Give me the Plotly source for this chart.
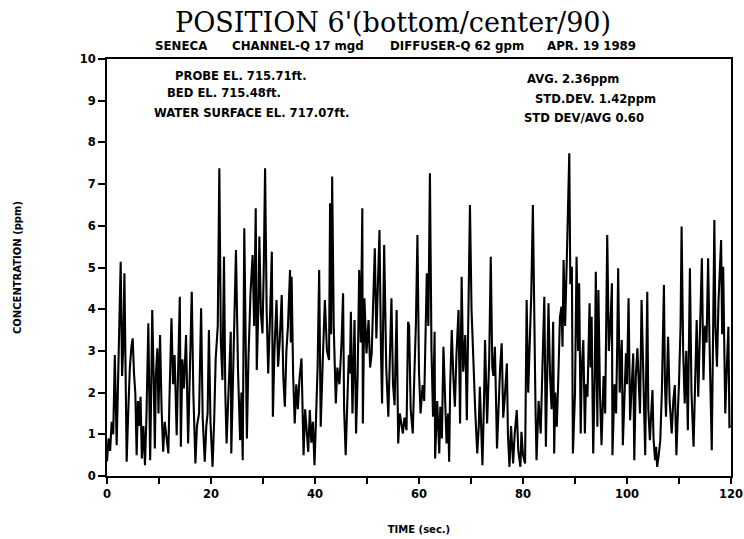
import plotly.graph_objects as go

# time (sec) and concentration (ppm)
time_s = [0.0,0.3,0.6,0.9,1.2,1.5,1.86,2.2,2.63,2.9,3.1,3.35,3.55,3.78,4.1,4.4,4.7,4.94,5.2,5.45,5.7,5.95,6.2,6.45,6.7,7.0,7.3,7.6,7.95,8.3,8.5,8.7,9.0,9.2,9.4,9.68,9.9,10.2,10.5,10.8,11.1,11.4,11.8,12.0,12.2,12.4,12.7,13.0,13.4,13.7,14.0,14.2,14.5,14.8,15.2,15.6,15.9,16.3,16.6,17.0,17.3,17.7,18.1,18.4,18.8,19.1,19.35,19.6,19.9,20.3,20.6,20.9,21.3,21.6,21.9,22.2,22.5,22.75,23.0,23.4,23.8,23.9,24.3,24.8,25.2,25.6,25.85,26.1,26.4,26.7,26.9,27.2,27.6,28.0,28.3,28.6,28.8,
          29.1,29.3,29.6,29.9,30.15,30.4,30.7,31.0,31.35,31.7,31.9,32.2,32.6,32.9,33.2,33.6,33.9,34.2,34.5,34.8,35.2,35.35,35.5,35.8,36.1,36.4,36.7,37.0,37.4,37.8,38.1,38.4,38.7,39.0,39.3,39.6,39.9,40.2,40.5,40.8,41.1,41.5,41.9,42.3,42.7,42.9,43.1,43.3,43.6,44.0,44.3,44.7,45.1,45.4,45.6,45.9,46.2,46.5,46.7,46.9,47.2,47.6,47.9,48.2,48.5,48.8,49.1,49.2,49.5,49.9,50.3,50.6,50.9,51.2,51.5,51.8,52.1,52.4,52.7,52.9,53.3,53.7,54.1,54.4,54.7,55.0,55.3,55.7,56.0,56.3,56.6,56.9,57.2,57.6,57.9,58.1,58.4,58.8,59.1,59.4,59.7,60.0,60.3,60.7,61.0,61.3,61.5,61.8,62.1,62.4,62.7,63.0,63.1,63.5,63.9,64.1,64.4,64.7,65.0,65.3,65.6,65.8,66.0,66.3,66.6,66.9,67.2,67.6,67.9,68.2,68.5,68.9,69.2,69.5,69.8,70.1,70.4,70.8,71.2,71.5,71.7,72.0,72.2,72.5,72.7,73.1,73.5,73.8,74.1,74.3,74.6,75.0,75.3,75.6,75.9,76.2,76.5,76.9,77.1,77.4,77.7,78.1,78.4,78.8,79.1,79.5,79.7,80.0,80.4,80.7,81.0,81.3,81.6,81.9,82.2,82.4,82.6,83.0,83.4,83.8,84.1,84.4,84.7,84.9,85.2,85.5,85.8,86.0,86.2,86.5,86.8,87.1,87.4,87.6,87.8,88.1,88.5,88.9,89.1,89.4,89.6,90.0,90.3,90.6,90.8,91.1,91.3,91.6,91.9,92.1,92.4,92.8,93.0,93.2,93.5,93.8,94.0,94.3,94.5,94.8,95.1,95.5,95.8,96.0,96.2,96.5,96.8,97.1,97.2,97.6,97.9,98.1,98.3,98.6,99.0,99.2,99.5,99.8,100.0,100.3,100.6,100.9,101.2,101.4,101.7,102.0,102.2,102.5,102.8,103.1,103.5,103.7,103.9,104.1,104.4,104.7,104.9,105.1,105.4,105.6,105.8,106.1,106.4,106.7,107.1,107.3,107.5,107.9,108.2,108.6,108.9,109.2,109.5,109.8,110.0,110.3,110.5,110.8,111.1,111.4,111.7,112.1,112.4,112.8,113.1,113.4,113.7,114.1,114.4,114.7,115.0,115.3,115.6,115.9,116.3,116.5,116.8,117.0,117.3,117.6,117.8,118.1,118.3,118.5,118.7,118.9,119.2,119.5,119.7,120.0]
conc_ppm = [0.35,0.9,0.6,1.3,1.0,2.9,0.74,2.7,5.14,2.4,3.0,4.86,2.0,0.34,1.6,2.6,3.1,3.3,2.45,1.98,0.5,1.8,1.2,1.9,0.42,1.2,0.26,1.5,3.66,0.38,2.0,3.98,2.2,0.66,2.4,3.06,1.5,3.38,1.6,0.58,1.3,0.9,0.54,1.8,2.7,3.78,2.2,2.9,0.98,2.5,4.3,0.7,2.8,2.1,3.38,0.78,2.2,4.42,2.0,0.3,1.2,1.5,4.02,1.4,0.34,1.2,1.5,3.5,1.3,0.22,1.3,2.8,3.6,7.38,3.2,2.3,5.26,2.0,0.78,2.2,3.46,0.54,2.6,5.42,2.5,0.86,2.0,0.38,5.94,2.6,0.9,2.8,4.4,5.3,3.6,6.42,2.54,
            4.0,5.74,3.9,3.42,5.0,7.38,4.0,2.46,3.8,5.38,1.42,3.0,4.22,2.62,3.2,4.34,2.4,1.66,3.0,3.6,4.94,3.2,4.78,2.4,1.26,2.2,1.6,2.3,2.82,0.5,1.6,1.1,0.58,1.58,0.8,1.3,0.26,1.4,2.6,4.94,1.18,2.8,4.22,3.0,2.78,6.54,3.4,7.18,3.6,1.74,2.6,2.2,3.2,4.38,1.6,0.5,1.8,2.9,2.46,3.94,1.5,3.74,1.02,2.4,4.94,3.2,6.42,1.26,4.26,2.94,3.74,2.6,2.94,4.3,5.46,3.3,4.6,5.9,2.9,1.74,5.54,2.6,1.42,3.0,4.26,2.2,1.7,3.98,0.78,1.5,1.2,1.02,1.4,1.1,3.7,3.6,1.6,1.02,2.4,3.62,5.78,2.5,1.5,2.18,1.8,3.6,4.86,3.6,7.26,3.0,1.42,3.46,0.42,1.8,0.54,1.66,0.9,3.1,1.6,0.78,1.5,0.34,2.2,3.5,2.4,1.66,2.9,3.98,1.26,4.78,2.5,3.38,1.34,3.6,6.5,4.0,2.8,1.6,0.54,1.2,2.14,1.0,0.26,1.8,3.26,1.26,2.8,5.26,2.6,2.4,3.1,0.66,1.8,2.6,3.18,1.4,1.9,2.7,1.0,0.22,1.2,0.3,1.0,1.58,0.6,0.22,1.06,0.5,0.3,4.22,2.0,3.2,4.4,6.5,2.5,1.66,0.38,1.8,1.02,2.8,4.3,0.7,3.0,4.14,2.4,1.6,3.7,0.54,2.0,1.18,2.4,3.8,4.06,3.1,5.18,3.6,5.58,7.74,4.6,5.02,0.54,1.98,5.26,3.0,4.62,1.02,2.6,3.26,1.02,2.2,1.9,4.14,2.6,3.82,0.54,2.4,4.9,1.18,4.46,2.0,0.74,2.4,1.5,3.4,5.78,3.0,3.6,4.62,0.5,2.2,1.5,3.0,4.98,2.0,3.26,0.74,2.0,2.94,2.2,4.26,1.34,2.2,2.94,0.38,2.4,3.06,2.5,1.5,4.22,2.5,0.5,2.6,4.42,1.6,0.86,1.6,2.06,0.9,0.38,0.7,0.22,0.5,0.86,2.0,4.58,2.2,1.42,3.34,1.8,1.02,1.8,2.18,0.5,1.6,2.22,3.6,5.98,3.0,1.74,3.0,1.1,4.98,2.0,0.7,2.2,3.74,1.9,3.6,5.22,2.3,3.6,3.2,5.22,3.0,0.62,2.8,6.14,3.6,2.62,4.2,5.0,5.66,3.4,5.02,3.2,1.5,2.6,3.58,1.18,1.2]

x_ticks = [0, 10, 20, 30, 40, 50, 60, 70, 80, 90, 100, 110, 120]
x_tick_text = ["0", "", "20", "", "40", "", "60", "", "80", "", "100", "", "120"]
y_ticks = [0, 1, 2, 3, 4, 5, 6, 7, 8, 9, 10]

title_text = "POSITION 6'(bottom/center/90)"
subtitle_parts = ["SENECA", "CHANNEL-Q 17 mgd", "DIFFUSER-Q 62 gpm", "APR. 19 1989"]
left_notes = ["PROBE EL. 715.71ft.", "BED EL. 715.48ft.", "WATER SURFACE EL. 717.07ft."]
right_notes = ["AVG. 2.36ppm", "STD.DEV. 1.42ppm", "STD DEV/AVG 0.60"]

SANS = "DejaVu Sans, Liberation Sans, Arial"
note_font = dict(family=SANS, size=11.6, color="black", weight="bold")
sub_font = dict(family=SANS, size=11.8, color="black", weight="bold")
tick_font = dict(family=SANS, size=11.5, color="black", weight="bold")
axis_title_font = dict(family=SANS, size=10, color="black", weight="bold")

fig = go.Figure()
fig.add_trace(go.Scatter(x=time_s, y=conc_ppm, mode="lines",
                         line=dict(color="black", width=2.1), showlegend=False))

W, H = 744, 539
L, R, T, B = 107, 13, 59, 63
pw, ph = W - L - R, H - T - B

def px(xp, yp):
    return (xp - L) / pw, (H - B - yp) / ph

ann = []
ann.append(dict(text=title_text, x=px(393, 0)[0], y=px(0, 22)[1], xref="paper", yref="paper",
                showarrow=False, xanchor="center", yanchor="middle",
                font=dict(family="DejaVu Serif, Liberation Serif", size=27, color="black")))
sub_x = [153, 230, 388, 545]
for t, xp in zip(subtitle_parts, sub_x):
    xx, yy = px(xp, 46)
    ann.append(dict(text=t, x=xx, y=yy, xref="paper", yref="paper", showarrow=False,
                    xanchor="left", yanchor="middle", font=sub_font))
left_pos = [(173, 76), (165, 93), (152, 113)]
for t, (xp, yp) in zip(left_notes, left_pos):
    xx, yy = px(xp, yp)
    ann.append(dict(text=t, x=xx, y=yy, xref="paper", yref="paper", showarrow=False,
                    xanchor="left", yanchor="middle", font=note_font))
right_pos = [(525, 79), (533, 99), (522, 118)]
for t, (xp, yp) in zip(right_notes, right_pos):
    xx, yy = px(xp, yp)
    ann.append(dict(text=t, x=xx, y=yy, xref="paper", yref="paper", showarrow=False,
                    xanchor="left", yanchor="middle", font=note_font))

fig.update_layout(
    width=W, height=H,
    margin=dict(l=L, r=R, t=T, b=B, autoexpand=False),
    paper_bgcolor="white", plot_bgcolor="white",
    annotations=ann,
    xaxis=dict(range=[0, 120], tickvals=x_ticks, ticktext=x_tick_text, ticks="outside",
               ticklen=6, tickwidth=1.5, tickcolor="black", showgrid=False, zeroline=False,
               showline=True, linecolor="black", linewidth=2, mirror=True,
               tickfont=tick_font, automargin=False,
               title=dict(text="TIME (sec.)", font=axis_title_font, standoff=26)),
    yaxis=dict(range=[0, 10], tickvals=y_ticks, ticks="outside", ticklen=7, tickwidth=1.5,
               tickcolor="black", showgrid=False, zeroline=False,
               showline=True, linecolor="black", linewidth=2, mirror=True,
               tickfont=tick_font, automargin=False,
               title=dict(text="CONCENTRATION (ppm)", font=axis_title_font, standoff=56)),
)

fig.write_html("out.html")
